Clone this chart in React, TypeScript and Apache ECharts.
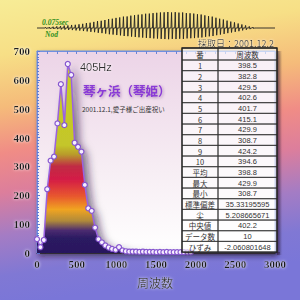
import { useEffect, useRef } from "react";
import * as echarts from "echarts";

// FFT bins (Hz) and amplitudes
const freqs = [0, 43, 86, 129, 172, 215, 258, 301, 345, 388, 431, 474, 517, 560, 603, 646, 689, 732, 775, 818, 861, 904, 947, 991, 1034, 1077, 1120, 1163, 1206, 1249, 1292, 1335, 1378, 1421, 1464, 1507, 1550, 1593, 1636, 1680, 1723, 1766, 1809, 1852, 1895, 1938];
const amps = [48, 20, 45, 221, 320, 334, 449, 585, 443, 655, 617, 382, 368, 351, 236, 155, 146, 88, 48, 37, 26, 19, 14, 11, 20, 9, 6, 5, 5, 5, 4, 5, 4, 4, 4, 3, 4, 3, 4, 3, 3, 3, 3, 3, 2, 2];

// waveform (upper / lower excursions per cycle)
const waveUp = [0.05, 0.06, 0.08, 0.1, 0.12, 0.15, 0.16, 0.19, 0.2, 0.23, 0.26, 0.31, 0.33, 0.38, 0.43, 0.45, 0.5, 0.56, 0.58, 0.63, 0.66, 0.71, 0.72, 0.77, 0.8, 0.83, 0.85, 0.89, 0.9, 0.93, 0.95, 0.97, 0.98, 1.0, 0.97, 0.99, 0.96, 0.97, 0.93, 0.92, 0.9, 0.86, 0.84, 0.79, 0.74, 0.71, 0.64, 0.58, 0.53, 0.46, 0.4, 0.35, 0.28, 0.22, 0.16, 0.1, 0.06];
const waveDown = [0.04, 0.05, 0.06, 0.07, 0.09, 0.1, 0.12, 0.13, 0.15, 0.16, 0.19, 0.21, 0.24, 0.26, 0.3, 0.32, 0.35, 0.39, 0.41, 0.44, 0.46, 0.5, 0.51, 0.54, 0.56, 0.58, 0.6, 0.62, 0.63, 0.65, 0.66, 0.68, 0.69, 0.7, 0.68, 0.69, 0.67, 0.68, 0.65, 0.64, 0.63, 0.6, 0.59, 0.55, 0.52, 0.5, 0.45, 0.41, 0.37, 0.32, 0.28, 0.24, 0.2, 0.15, 0.11, 0.07, 0.04];

const tableHeader = ["番", "周波数"];
const tableLabels = ["1", "2", "3", "4", "5", "6", "7", "8", "9", "10", "平均", "最大", "最小", "標準偏差", "尖", "中央値", "データ数", "ひずみ"];
const tableValues = [398.5, 382.8, 429.5, 402.6, 401.7, 415.1, 429.9, 308.7, 424.2, 394.6, 398.8, 429.9, 308.7, 35.33195595, 5.208665671, 402.2, 10, -2.060801648];

const peakLabel = "405Hz";
const titleText = "琴ヶ浜（琴姫）";
const subText = "2001.12.1,愛子様ご出産祝い";
const dateText = "採取日：2001.12.2";
const xName = "周波数";

const JP = "'Noto Sans CJK JP', sans-serif";

export default function App() {
  const ref = useRef<HTMLDivElement>(null);
  useEffect(() => {
    if (!ref.current) return;
    const chart = echarts.init(ref.current, undefined, { renderer: "svg" });

    const waveData: number[][] = [[0, 0], [2.2, 0]];
    waveUp.forEach((u, i) => {
      const b = i + 2.2;
      waveData.push([b + 0.15, u]);
      waveData.push([b + 0.35, -waveDown[i]]);
      waveData.push([b + 0.5, 0]);
      waveData.push([b + 1, 0]);
    });
    waveData.push([64.3, 0]);

    const tX = 182, tW1 = 36, tW2 = 59, tY = 48, hH = 12, rH = 10.67;
    const cells: any[] = [];
    cells.push({ type: "rect", z: 100, shape: { x: tX, y: tY, width: tW1 + tW2, height: hH + rH * tableLabels.length }, style: { fill: "rgba(255,255,255,0.62)" } });
    cells.push({ type: "rect", z: 99, shape: { x: tX + tW1 + tW2, y: tY + 3, width: 5, height: hH + rH * tableLabels.length }, style: { fill: new echarts.graphic.LinearGradient(0, 0, 1, 0, [{ offset: 0, color: "rgba(40,20,50,0.55)" }, { offset: 1, color: "rgba(40,20,50,0)" }]) } });
    cells.push({ type: "rect", z: 99, shape: { x: tX + 3, y: tY + hH + rH * tableLabels.length, width: tW1 + tW2, height: 4 }, style: { fill: new echarts.graphic.LinearGradient(0, 0, 0, 1, [{ offset: 0, color: "rgba(40,20,50,0.5)" }, { offset: 1, color: "rgba(40,20,50,0)" }]) } });
    const rows = [tableHeader[0], ...tableLabels];
    const vals = [tableHeader[1], ...tableValues.map(String)];
    rows.forEach((lab, r) => {
      const y = r === 0 ? tY : tY + hH + (r - 1) * rH;
      const h = r === 0 ? hH : rH;
      cells.push({ type: "rect", z: 101, shape: { x: tX, y, width: tW1, height: h }, style: { fill: "none", stroke: "#333", lineWidth: 0.8 } });
      cells.push({ type: "rect", z: 101, shape: { x: tX + tW1, y, width: tW2, height: h }, style: { fill: "none", stroke: "#333", lineWidth: 0.8 } });
      cells.push({ type: "text", z: 102, x: tX + tW1 / 2, y: y + h / 2 + 0.5, style: { text: lab, fill: "#333", fontSize: 7.5, fontFamily: JP, textAlign: "center", textVerticalAlign: "middle" } });
      cells.push({ type: "text", z: 102, x: tX + tW1 + tW2 / 2, y: y + h / 2 + 0.5, style: { text: vals[r], fill: "#333", fontSize: 7.5, fontFamily: r === 0 ? JP : "'Liberation Sans', sans-serif", textAlign: "center", textVerticalAlign: "middle" } });
    });
    cells.push({ type: "rect", z: 103, shape: { x: tX, y: tY, width: tW1 + tW2, height: hH + rH * tableLabels.length }, style: { fill: "none", stroke: "#222", lineWidth: 1.3 } });

    const texts: any[] = [
      { type: "text", z: 50, x: 42, y: 22, style: { text: "0.075sec", fill: "#2f8f1c", fontSize: 7.5, fontStyle: "italic", fontWeight: "bold", fontFamily: "'Liberation Serif', serif", textVerticalAlign: "middle" } },
      { type: "text", z: 50, x: 45, y: 34, style: { text: "Nod", fill: "#2f8f1c", fontSize: 7.5, fontStyle: "italic", fontWeight: "bold", fontFamily: "'Liberation Serif', serif", textVerticalAlign: "middle" } },
      { type: "text", z: 50, x: 274, y: 43.5, style: { text: dateText, fill: "#333", fontSize: 9, fontFamily: JP, textAlign: "right", textVerticalAlign: "middle", textShadowColor: "#fff", textShadowBlur: 2 } },
      { type: "text", z: 50, x: 80, y: 66.5, style: { text: peakLabel, fill: "#2a2a2a", fontSize: 11, fontFamily: "'Liberation Sans', sans-serif", textVerticalAlign: "middle", textShadowColor: "rgba(255,255,255,0.9)", textShadowBlur: 3 } },
      { type: "text", z: 50, x: 83, y: 90, style: { text: titleText, fill: "#8a3ad6", fontSize: 12.5, fontWeight: "bold", fontFamily: JP, textVerticalAlign: "middle", textShadowColor: "rgba(90,40,120,0.45)", textShadowBlur: 3, textShadowOffsetX: 1, textShadowOffsetY: 1 } },
      { type: "text", z: 50, x: 82, y: 108.5, style: { text: subText, fill: "#333", fontSize: 6.5, fontFamily: JP, textVerticalAlign: "middle" } },
      { type: "text", z: 50, x: 155, y: 282, style: { text: xName, fill: "#333", fontSize: 12, fontFamily: JP, textAlign: "center", textVerticalAlign: "middle", textShadowColor: "rgba(255,255,255,0.8)", textShadowBlur: 3 } },
    ];

    const axisLabelStyle = { color: "#1e1e1e", fontFamily: "'Liberation Serif', serif", fontWeight: "bold" as const, fontSize: 11, textShadowColor: "rgba(255,255,255,0.9)", textShadowBlur: 3, formatter: (v: number) => String(v) };

    chart.setOption({
      animation: false,
      backgroundColor: new echarts.graphic.LinearGradient(0, 0, 0.15, 1, [
        { offset: 0, color: "#f7ec96" },
        { offset: 0.18, color: "#f7df86" },
        { offset: 0.35, color: "#f5bb7a" },
        { offset: 0.5, color: "#f08c86" },
        { offset: 0.63, color: "#dc7e9c" },
        { offset: 0.77, color: "#a47cc4" },
        { offset: 0.9, color: "#8078d4" },
        { offset: 1, color: "#7a76d8" },
      ]),
      grid: [
        {
          left: 37, right: 25, top: 51, bottom: 47, show: true,
          backgroundColor: new echarts.graphic.LinearGradient(0, 0, 0, 1, [{ offset: 0, color: "#ecd4e7" }, { offset: 0.6, color: "#f7eef4" }, { offset: 1, color: "#ffffff" }]),
          borderColor: "#7090e0", borderWidth: 1,
          shadowColor: "rgba(30,20,40,0.55)", shadowBlur: 5, shadowOffsetX: 2, shadowOffsetY: 3,
        },
        { left: 37, right: 25, top: 12, height: 32, show: false },
      ],
      xAxis: [
        {
          type: "value", gridIndex: 0, min: 0, max: 3000, interval: 500, position: "bottom",
          axisLine: { show: true, lineStyle: { color: "#333", width: 1 } },
          axisTick: { show: false }, splitLine: { show: false },
          axisLabel: { ...axisLabelStyle, margin: 5 },
        },
        {
          type: "value", gridIndex: 0, min: 0, max: 3000, interval: 500, position: "top",
          axisLine: { show: true, lineStyle: { color: "#7090e0" } },
          axisTick: { show: true, inside: true, length: 3, lineStyle: { color: "#6a86d8" } },
          minorTick: { show: true, splitNumber: 4, length: 3, lineStyle: { color: "#6a86d8" } },
          axisLabel: { show: false }, splitLine: { show: false },
        },
        { type: "value", gridIndex: 1, min: 0, max: 64.3, show: false },
      ],
      yAxis: [
        {
          type: "value", gridIndex: 0, min: 0, max: 700, interval: 100,
          axisLine: { show: true, lineStyle: { color: "#7090e0" } },
          axisTick: { show: true, inside: true, length: 3, lineStyle: { color: "#5a7ad8" } },
          minorTick: { show: true, splitNumber: 10, length: 2, lineStyle: { color: "#5a7ad8" } },
          splitLine: { show: false },
          axisLabel: { ...axisLabelStyle, margin: 7 },
        },
        { type: "value", gridIndex: 1, min: -1, max: 1, show: false },
      ],
      series: [
        {
          type: "line", xAxisIndex: 2, yAxisIndex: 1, data: waveData, symbol: "none",
          lineStyle: { color: "#222", width: 0.9 }, silent: true,
        },
        {
          type: "line", xAxisIndex: 0, yAxisIndex: 0,
          data: freqs.map((f, i) => [f, amps[i]]),
          symbol: "circle", symbolSize: 5, showAllSymbol: true,
          lineStyle: { color: "#9a62e0", width: 1.5 },
          itemStyle: { color: "#f6efff", borderColor: "#8656cf", borderWidth: 1.2 },
          areaStyle: {
            color: new echarts.graphic.LinearGradient(0, 0, 0, 1, [
              { offset: 0, color: "#c8d020" },
              { offset: 0.43, color: "#c4c62a" },
              { offset: 0.48, color: "#b89a2c" },
              { offset: 0.54, color: "#c02c44" },
              { offset: 0.61, color: "#d41c46" },
              { offset: 0.7, color: "#e8582e" },
              { offset: 0.77, color: "#f0a422" },
              { offset: 0.83, color: "#b08a3a" },
              { offset: 0.88, color: "#4c2c70" },
              { offset: 0.92, color: "#2c1a62" },
              { offset: 1, color: "#28185e" },
            ]),
            opacity: 1,
            shadowColor: "rgba(40,20,60,0.6)", shadowBlur: 8, shadowOffsetX: 5, shadowOffsetY: 2,
          },
        },
      ],
      graphic: [...texts, ...cells],
    });
    return () => chart.dispose();
  }, []);
  return <div ref={ref} style={{ position: "fixed", left: 0, top: 0, width: 300, height: 300 }} />;
}
